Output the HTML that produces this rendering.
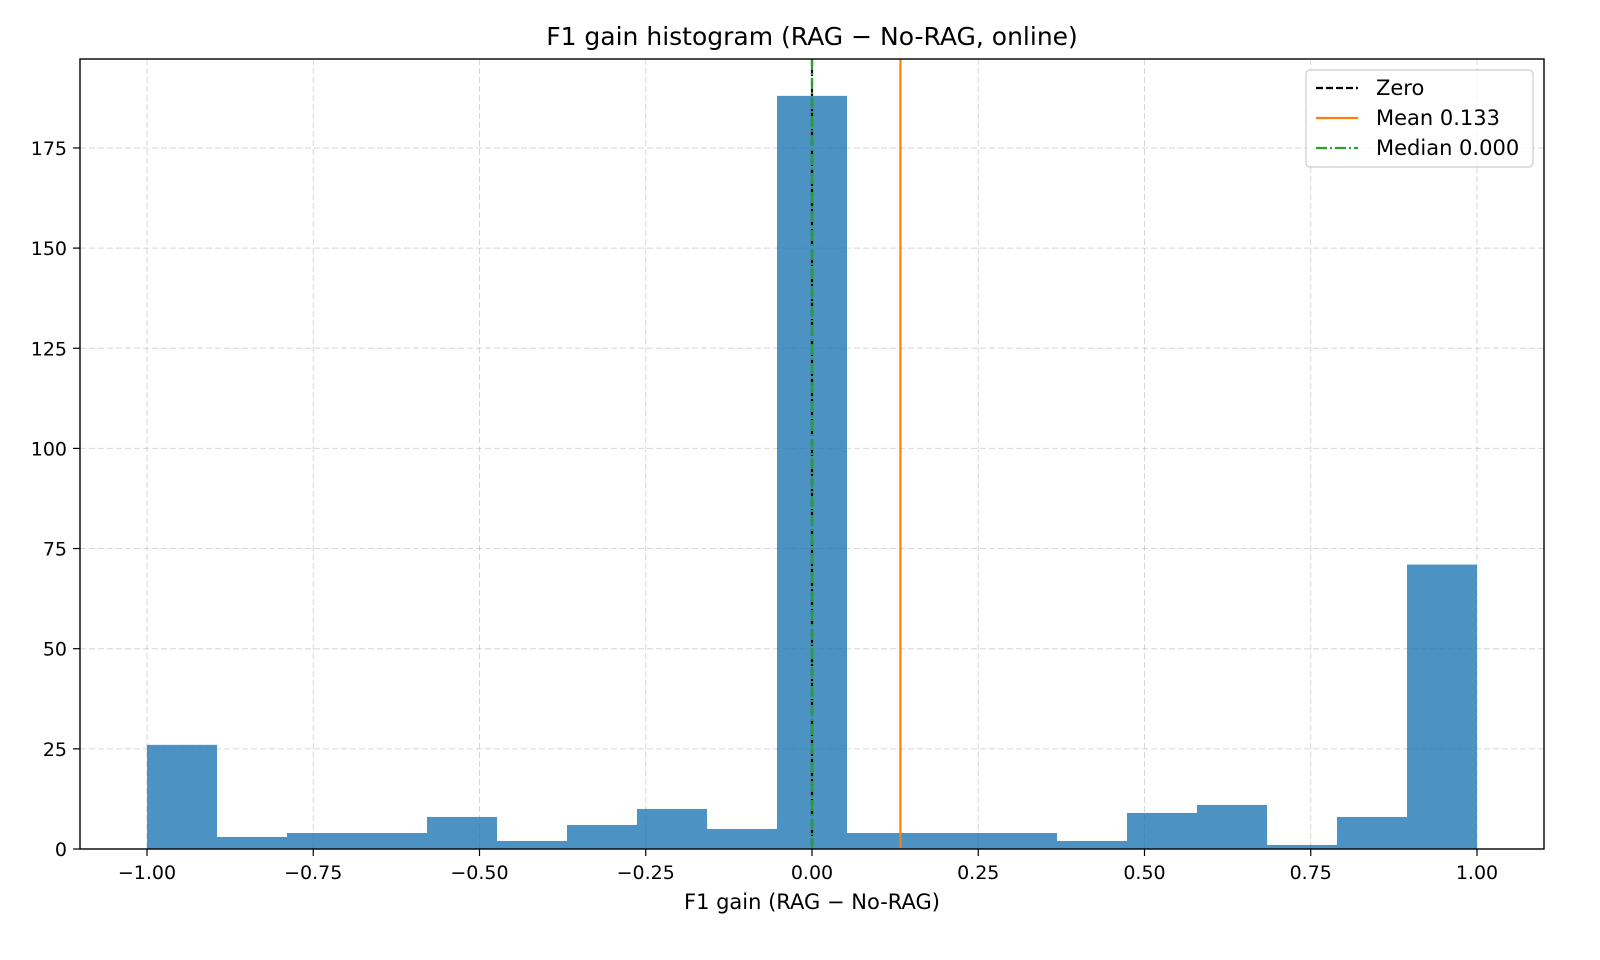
<!DOCTYPE html>
<html><head><meta charset="utf-8"><style>
body{margin:0;background:#fff;}
svg{display:block;font-family:"DejaVu Sans","Liberation Sans",sans-serif;}
</style></head><body>
<svg id="chart" width="1600" height="960" viewBox="0 0 1600 960">
<rect width="1600" height="960" fill="#fff"/>
<g id="grid"></g>
<g id="bars"></g>
<g id="lines"></g>
<rect x="80" y="59" width="1464" height="790" fill="none" stroke="#000" stroke-width="1.4"/>
<g id="xticks"></g>
<g id="yticks"></g>
<text x="812" y="45" text-anchor="middle" font-size="25">F1 gain histogram (RAG − No-RAG, online)</text>
<text x="812" y="909" text-anchor="middle" font-size="21">F1 gain (RAG − No-RAG)</text>
<g>
<rect x="1306" y="70" width="227" height="97" rx="4" fill="#fff" fill-opacity="0.8" stroke="#ccc" stroke-width="1.2"/>
<g><line x1="1316" y1="88" x2="1358" y2="88" stroke="#000" stroke-width="2.2" stroke-dasharray="7,3"/><text x="1376" y="95" font-size="21">Zero</text></g>
<g><line x1="1316" y1="118" x2="1358" y2="118" stroke="#ff7f0e" stroke-width="2.2"/><text x="1376" y="125" font-size="21">Mean 0.133</text></g>
<g><line x1="1316" y1="148" x2="1358" y2="148" stroke="#2ca02c" stroke-width="2.2" stroke-dasharray="11,3,2,3"/><text x="1376" y="155" font-size="21">Median 0.000</text></g>
</g>
</svg>
<script>
const counts=[26,3,4,4,8,2,6,10,5,188,4,4,4,2,9,11,1,8,71];
const binMin=-1, binMax=1;
const xTicks=[-1,-0.75,-0.5,-0.25,0,0.25,0.5,0.75,1];
const xTickLabels=["−1.00","−0.75","−0.50","−0.25","0.00","0.25","0.50","0.75","1.00"];
const yTicks=[0,25,50,75,100,125,150,175];
const meanVal=0.133, medianVal=0.000, zeroVal=0;
const X=v=>147+(v+1)*665;
const Y=v=>849-v*4.006;
const NS="http://www.w3.org/2000/svg";
function mk(t,a,p){const e=document.createElementNS(NS,t);for(const k in a)e.setAttribute(k,a[k]);p.appendChild(e);return e;}
const grid=document.getElementById('grid'),bars=document.getElementById('bars'),lines=document.getElementById('lines'),xt=document.getElementById('xticks'),yt=document.getElementById('yticks');
xTicks.forEach((v,i)=>{
 const g=mk('line',{x1:X(v),x2:X(v),y1:59,y2:849,stroke:'#b0b0b0','stroke-opacity':0.5,'stroke-dasharray':'6,3'},grid);
 
 
 mk('line',{x1:X(v),x2:X(v),y1:849,y2:856,stroke:'#000','stroke-width':1.2},xt);
 const t=mk('text',{x:X(v),y:879,'text-anchor':'middle','font-size':19},xt);t.textContent=xTickLabels[i];
 
 
});
yTicks.forEach(v=>{
 const g=mk('line',{x1:80,x2:1544,y1:Y(v),y2:Y(v),stroke:'#b0b0b0','stroke-opacity':0.5,'stroke-dasharray':'6,3'},grid);
 
 
 mk('line',{x1:73,x2:80,y1:Y(v),y2:Y(v),stroke:'#000','stroke-width':1.2},yt);
 const t=mk('text',{x:67,y:Y(v)+7,'text-anchor':'end','font-size':19},yt);t.textContent=v;
 
 
});
const w=(binMax-binMin)/counts.length;
counts.forEach((c,i)=>{
 const x0=X(binMin+i*w),x1=X(binMin+(i+1)*w);
 const r=mk('rect',{x:x0,y:Y(c),width:x1-x0,height:Y(0)-Y(c),fill:'#1f77b4','fill-opacity':0.8},bars);
 
 
});
const l1=mk('line',{x1:X(zeroVal),x2:X(zeroVal),y1:59,y2:849,stroke:'#000','stroke-width':2.2,'stroke-dasharray':'7,3'},lines);


const l2=mk('line',{x1:X(meanVal),x2:X(meanVal),y1:59,y2:849,stroke:'#ff7f0e','stroke-width':2.2},lines);


const l3=mk('line',{x1:X(medianVal),x2:X(medianVal),y1:59,y2:849,stroke:'#2ca02c','stroke-width':2.2,'stroke-dasharray':'11,3,2,3'},lines);


</script>
</body></html>
